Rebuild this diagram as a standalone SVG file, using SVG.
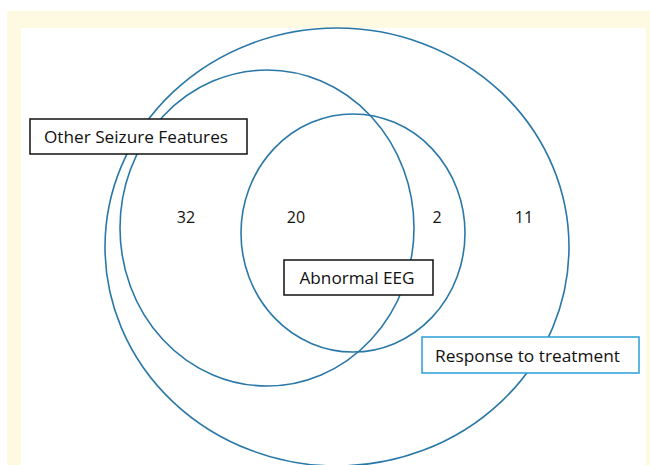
<svg xmlns="http://www.w3.org/2000/svg" width="650" height="465" viewBox="0 0 650 465">
<style>
.c{fill:none;stroke:#2a78a8;stroke-width:1.6}
.t{font-family:"Open Sans","Liberation Sans",sans-serif;font-size:17px;fill:#111;text-anchor:middle}
.n{font-family:"Open Sans","Liberation Sans",sans-serif;font-size:16px;fill:#111;text-anchor:middle}
.b{fill:#fff;stroke:#111;stroke-width:1.5}
</style>
<rect x="0" y="0" width="650" height="465" fill="#fff"/>
<rect x="7" y="11" width="643" height="454" fill="#fef9e1"/>
<rect x="21" y="28" width="625" height="437" fill="#fff"/>
<g id="circles">
<g id="response"><ellipse class="c" cx="337" cy="247" rx="232" ry="219"/></g>
<g id="seizure"><ellipse class="c" cx="267" cy="228" rx="147" ry="158"/></g>
<g id="eeg"><ellipse class="c" cx="353" cy="233" rx="112" ry="119"/></g>
</g>
<g id="counts">
<text class="n" x="186" y="223">32</text>
<text class="n" x="296" y="223">20</text>
<text class="n" x="437" y="223">2</text>
<text class="n" x="524" y="223">11</text>
</g>
<g id="label-seizure">
<rect class="b" x="30" y="119" width="217" height="35"/>
<text class="t" x="136" y="143" textLength="184" lengthAdjust="spacingAndGlyphs">Other Seizure Features</text>
</g>
<g id="label-eeg">
<rect class="b" x="284" y="260" width="149" height="35"/>
<text class="t" x="357" y="284" textLength="115" lengthAdjust="spacingAndGlyphs">Abnormal EEG</text>
</g>
<g id="label-response">
<rect x="422" y="337" width="217" height="36" fill="#fff" stroke="#2a9fd6" stroke-width="1.5"/>
<text class="t" x="527.5" y="362" textLength="185" lengthAdjust="spacingAndGlyphs">Response to treatment</text>
</g>
</svg>
